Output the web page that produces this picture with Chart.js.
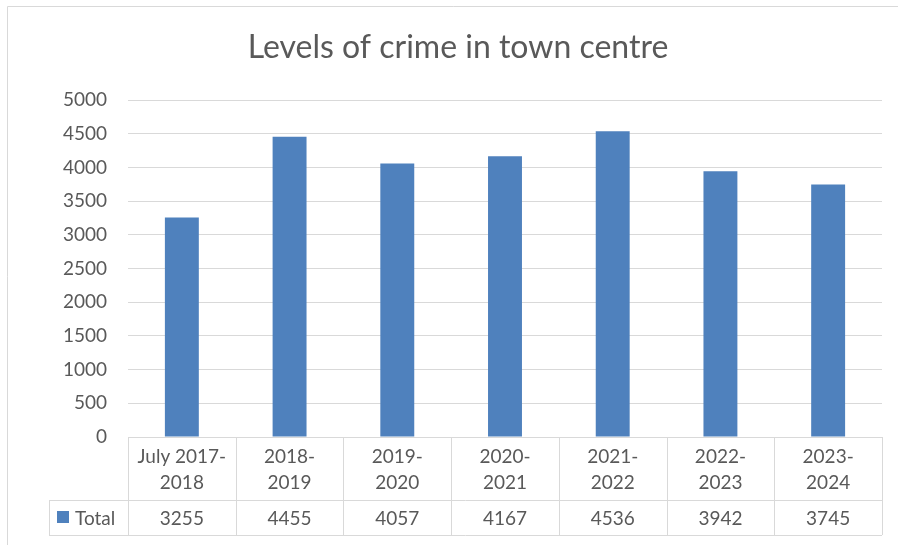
<!DOCTYPE html>
<html>
<head>
<meta charset="utf-8">
<script src="https://cdn.jsdelivr.net/npm/chart.js@4.4.1/dist/chart.umd.min.js"></script>
<style>
  html, body { margin: 0; padding: 0; background: #fff; }
  #wrap { width: 898px; height: 545px; position: relative; }
</style>
</head>
<body>
<div id="wrap"><canvas id="crime"></canvas></div>
<script>
/* ---- data ---- */
const periods = [
  ["July 2017-", "2018"],
  ["2018-", "2019"],
  ["2019-", "2020"],
  ["2020-", "2021"],
  ["2021-", "2022"],
  ["2022-", "2023"],
  ["2023-", "2024"]
];
const totals = [3255, 4455, 4057, 4167, 4536, 3942, 3745];
const seriesName = "Total";
const yTicks = [0, 500, 1000, 1500, 2000, 2500, 3000, 3500, 4000, 4500, 5000];

/* ---- style ---- */
const FONT = "Lato, 'Open Sans', sans-serif";
const TEXT = "#595959";
const GRID = "#d9d9d9";
const BAR  = "#4f81bd";

// data table under the plot + outer frame
const dataTable = {
  id: "dataTable",
  afterDraw(chart) {
    const ctx = chart.ctx;
    const area = chart.chartArea;
    const n = totals.length;
    const cw = (area.right - area.left) / n;
    const top = area.bottom, mid = top + 63, bot = top + 98;
    const legLeft = 49;

    ctx.save();
    ctx.strokeStyle = GRID;
    ctx.lineWidth = 1;
    ctx.beginPath();
    // frame
    ctx.moveTo(7.5, 900); ctx.lineTo(7.5, 6.5); ctx.lineTo(900, 6.5);
    // horizontals
    ctx.moveTo(area.left, top + 0.5); ctx.lineTo(area.right, top + 0.5);
    ctx.moveTo(legLeft, mid + 0.5); ctx.lineTo(area.right, mid + 0.5);
    ctx.moveTo(legLeft, bot + 0.5); ctx.lineTo(area.right, bot + 0.5);
    // verticals
    ctx.moveTo(legLeft + 0.5, mid); ctx.lineTo(legLeft + 0.5, bot);
    for (let i = 0; i <= n; i++) {
      const x = Math.round(area.left + i * cw) + 0.5;
      ctx.moveTo(x, top); ctx.lineTo(x, bot);
    }
    ctx.stroke();

    // values row
    ctx.fillStyle = TEXT;
    ctx.font = "19px " + FONT;
    ctx.textAlign = "center";
    ctx.textBaseline = "middle";
    const x = chart.scales.x;
    totals.forEach((v, i) => {
      ctx.fillText(String(v), x.getPixelForValue(i), (mid + bot) / 2 + 1);
    });

    // legend key
    ctx.fillStyle = BAR;
    ctx.fillRect(57, 511, 12, 12);
    ctx.fillStyle = TEXT;
    ctx.textAlign = "left";
    ctx.fillText(seriesName, 75, (mid + bot) / 2 + 1);
    ctx.restore();
  }
};

new Chart(document.getElementById("crime"), {
  type: "bar",
  data: {
    labels: periods,
    datasets: [{
      label: seriesName,
      data: totals,
      backgroundColor: BAR,
      barPercentage: 0.315,
      categoryPercentage: 1
    }]
  },
  options: {
    responsive: true,
    maintainAspectRatio: false,
    animation: false,
    layout: { padding: { left: 34, right: 16, top: 0, bottom: 0 } },
    plugins: {
      legend: { display: false },
      tooltip: { enabled: false },
      title: {
        display: true,
        text: "Levels of crime in town centre",
        color: TEXT,
        font: { family: FONT, size: 32, weight: "normal" },
        padding: { top: 28, bottom: 33.6 }
      }
    },
    scales: {
      x: {
        grid: { display: false },
        border: { display: false },
        ticks: {
          color: TEXT,
          font: { family: FONT, size: 19, lineHeight: 1.35 },
          padding: -1,
          maxRotation: 0
        },
        afterFit(s) { s.height = 108; }
      },
      y: {
        min: 0,
        max: 5000,
        afterBuildTicks(s) { s.ticks = yTicks.map(v => ({ value: v })); },
        grid: { color: GRID, drawTicks: false },
        border: { display: false },
        ticks: {
          color: TEXT,
          font: { family: FONT, size: 19 },
          padding: 21,
          callback: v => String(v)
        },
        afterFit(s) { s.width = 94; }
      }
    }
  },
  plugins: [dataTable]
});
</script>
</body>
</html>
